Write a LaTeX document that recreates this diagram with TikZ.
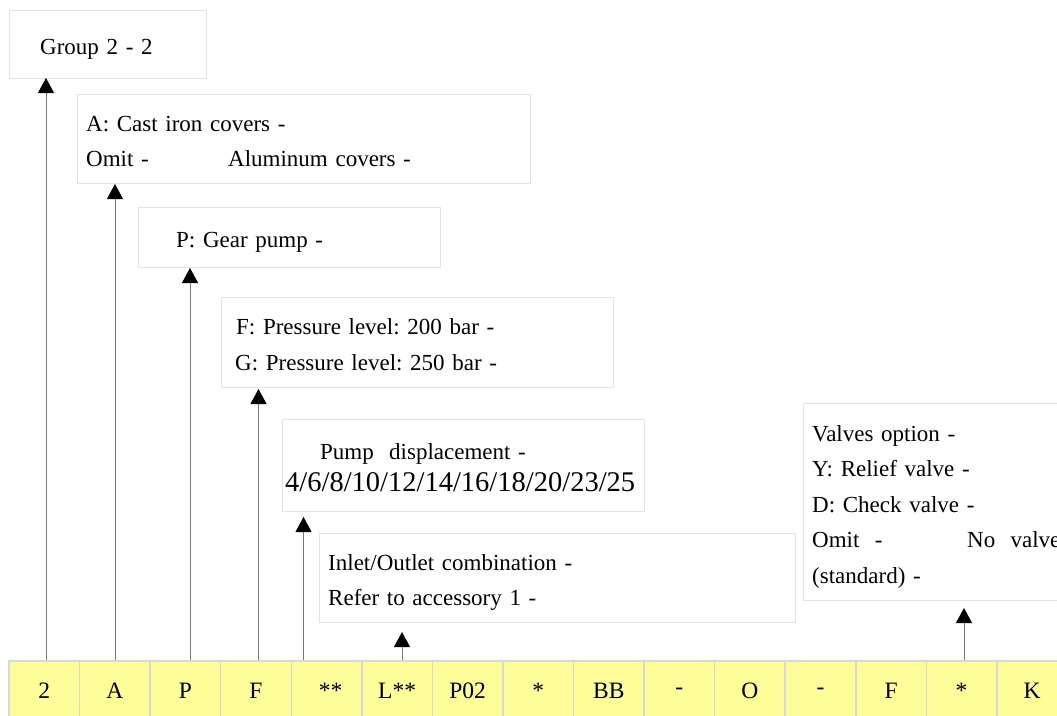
\documentclass[tikz,border=0pt]{standalone}
\usepackage{fontspec}
\setmainfont{Liberation Serif}
\usetikzlibrary{arrows.meta}

\definecolor{cellfill}{RGB}{253,253,153}
\definecolor{cellline}{RGB}{216,216,216}
\definecolor{boxline}{RGB}{228,228,228}
\definecolor{stemline}{RGB}{120,120,120}

% struts for the first and last line of a box
\newcommand\hiline{\rule{0pt}{26pt}}
\newcommand\loline{\rule[-5pt]{0pt}{5pt}}

\begin{document}
\begin{tikzpicture}[x=1pt,y=-1pt,
    every node/.append style={font=\fontsize{23}{35.5}\selectfont\frenchspacing}]

      \path[use as bounding box,clip] (0,0) rectangle (1057,715);

      % code cells
      \begin{scope}[every node/.style={draw=cellline,line width=1.5pt,fill=cellfill,
          minimum width=70.57pt,minimum height=60pt,inner sep=0pt,
          font=\fontsize{23.5}{28}\selectfont}]
        \node (c1)  at (44.3,691)  {2};
        \node (c2)  at (114.9,691) {A};
        \node (c3)  at (185.4,691) {P};
        \node (c4)  at (256.0,691) {F};
        \node (c5)  at (326.6,691) {\hspace*{8pt}**};
        \node (c6)  at (397.1,691) {L**};
        \node (c7)  at (467.7,691) {P02};
        \node (c8)  at (538.3,691) {*};
        \node (c9)  at (608.8,691) {BB};
        \node (c10) at (679.4,691) {-};
        \node (c11) at (749.9,691) {O};
        \node (c12) at (820.5,691) {-};
        \node (c13) at (891.1,691) {F};
        \node (c14) at (961.6,691) {*};
        \node (c15) at (1032.2,691) {K};
      \end{scope}

      % option boxes
      \begin{scope}[every node/.style={draw=boxline,fill=white,anchor=north west,
          align=left,inner ysep=0pt,
          font=\fontsize{23}{35.5}\selectfont\frenchspacing}]
        \node[minimum height=68pt,inner xsep=31pt,text width=135pt] (grp) at (9,10)
          {\hiline Group 2 - 2\loline};
        \node[minimum height=89pt,inner xsep=9pt,text width=435pt] (cov) at (77,94)
          {\hiline A: Cast iron covers -\\ \makebox[142pt][l]{Omit -}Aluminum covers -\loline};
        \node[minimum height=60pt,inner xsep=38pt,text width=226pt] (pmp) at (138,207)
          {\hiline P: Gear pump -\loline};
        \node[minimum height=90pt,inner xsep=14pt,text width=364pt] (prs) at (221,297)
          {\hiline\hspace*{1pt}F: Pressure level: 200 bar -\\ G: Pressure level: 250 bar -\loline};
        \node[minimum height=92pt,inner xsep=3pt,text width=356pt] (dsp) at (282,419)
          {\hiline\hspace*{35pt}Pump\ \ displacement -\\[-3pt]
           {\fontsize{28.5}{32}\selectfont 4/6/8/10/12/14/16/18/20/23/25}\loline};
        \node[minimum height=89pt,inner xsep=9pt,text width=458pt] (prt) at (319,533)
          {\hiline Inlet/Outlet combination -\\ Refer to accessory 1 -\loline};
        \node[minimum height=197pt,inner xsep=9pt,text width=300pt] (vlv) at (803,403)
          {\hiline Valves option -\\ Y: Relief valve -\\ D: Check valve -\\
           \makebox[155pt][l]{Omit\ \ -}No\ \ valve\\ (standard) -\loline};
      \end{scope}

      % arrow tips
      \coordinate (tgrp) at (46,78);
      \coordinate (tcov) at (115,184);
      \coordinate (tpmp) at (190,268);
      \coordinate (tprs) at (258.5,389);
      \coordinate (tdsp) at (303.5,517);
      \coordinate (tprt) at (402,632);
      \coordinate (tvlv) at (964,608);

      \begin{scope}[every edge/.style={draw=stemline,line width=1pt,
          -{Triangle[width=16pt,length=15pt,color=black]}}]
        \path (c1.north -| tgrp) edge (tgrp);
        \path (c2.north -| tcov) edge (tcov);
        \path (c3.north -| tpmp) edge (tpmp);
        \path (c4.north -| tprs) edge (tprs);
        \path (c5.north -| tdsp) edge (tdsp);
        \path (c6.north -| tprt) edge (tprt);
        \path (c14.north -| tvlv) edge (tvlv);
      \end{scope}

    \end{tikzpicture}
\end{document}
